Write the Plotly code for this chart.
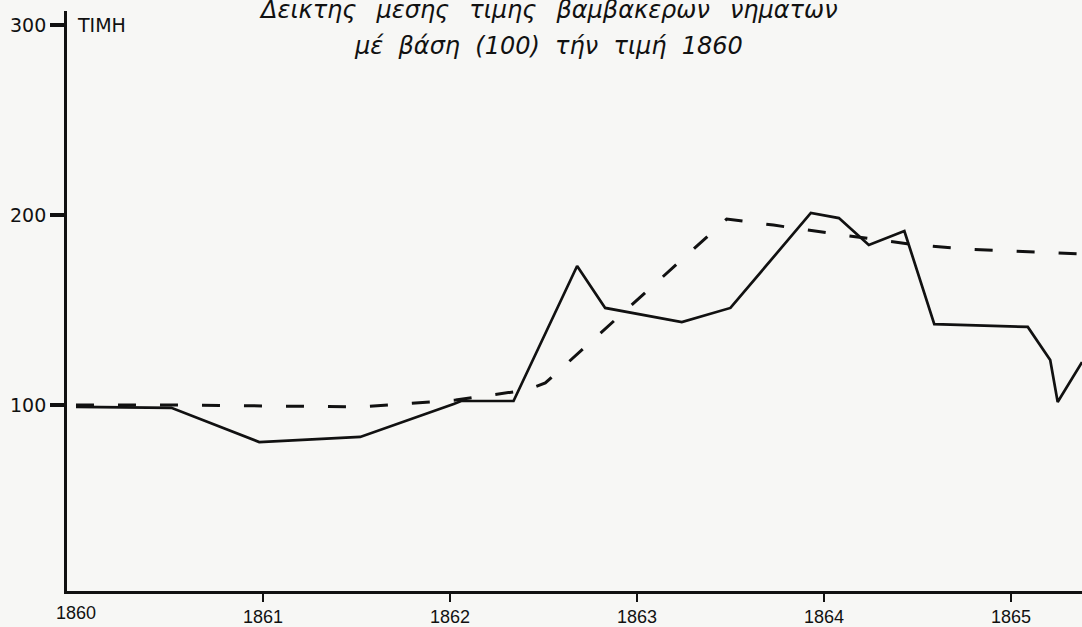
import plotly.graph_objects as go

# Solid line: cotton yarn price index (1860 = 100)
solid_years = [1860.0, 1860.51, 1860.98, 1861.52, 1862.02, 1862.06, 1862.34, 1862.68,
               1862.83, 1863.24, 1863.50, 1863.93, 1864.08, 1864.24, 1864.43, 1864.59,
               1865.09, 1865.21, 1865.25, 1865.38]
solid_values = [99, 98.5, 80.5, 83.2, 100.5, 102.1, 102.1, 173.2,
                151.1, 143.7, 151.1, 201.1, 198.4, 184.2, 191.6, 142.6,
                141.1, 123.7, 101.6, 122.6]

# Dashed line
dashed_years = [1860.0, 1860.51, 1861.52, 1862.03, 1862.41, 1862.51, 1863.48, 1863.73,
                1864.10, 1864.50, 1864.76, 1865.38]
dashed_values = [100, 100, 99, 102.6, 107.9, 111.6, 197.9, 194.7,
                 189.5, 184.2, 182.1, 179.5]

x_tick_years = [1861, 1862, 1863, 1864, 1865]
x_tick_labels = ["1861", "1862", "1863", "1864", "1865"]
y_tick_values = [100, 200, 300]
y_tick_labels = ["100", "200", "300"]

gap = "  \u2009"
title_line1 = gap.join(["Δεικτης", "μεσης", "τιμης", "βαμβακερων", "νηματων"])
title_line2 = "μέ  βάση  (100)  τήν  τιμή  1860"
y_axis_label = "ΤΙΜΗ"
first_year_label = "1860"

ink = "#111111"
bg = "#f7f7f5"
title_x = (548 - 67) / 1015

fig = go.Figure()
fig.add_trace(go.Scatter(x=dashed_years, y=dashed_values, mode="lines",
                         line=dict(color=ink, width=3, dash="18px,24px"),
                         showlegend=False, hoverinfo="skip"))
fig.add_trace(go.Scatter(x=solid_years, y=solid_values, mode="lines",
                         line=dict(color=ink, width=2.7),
                         showlegend=False, hoverinfo="skip"))

fig.update_layout(
    width=1082, height=627,
    margin=dict(l=67, r=0, t=11, b=36, autoexpand=False),
    paper_bgcolor=bg, plot_bgcolor=bg,
    showlegend=False,
    xaxis=dict(range=[1859.952, 1865.38], showgrid=False, zeroline=False,
               showline=True, linecolor=ink, linewidth=2.5,
               ticks="outside", ticklen=8, tickwidth=2, tickcolor=ink,
               tickvals=x_tick_years, ticktext=x_tick_labels, automargin=False,
               tickfont=dict(family="Liberation Sans", size=18, color=ink)),
    yaxis=dict(range=[2.1, 307.4], showgrid=False, zeroline=False,
               showline=True, linecolor=ink, linewidth=2.8,
               ticks="outside", ticklen=14, tickwidth=4, tickcolor=ink,
               tickvals=y_tick_values, ticktext=y_tick_labels, automargin=False,
               tickfont=dict(family="DejaVu Sans", size=19, color=ink)),
    annotations=[
        dict(text=title_line1, xref="paper", yref="paper", x=title_x, y=1,
             xanchor="center", yanchor="middle", yshift=1.5, showarrow=False,
             font=dict(family="DejaVu Sans", size=24, color=ink, style="italic")),
        dict(text=title_line2, xref="paper", yref="paper", x=title_x, y=1,
             xanchor="center", yanchor="middle", yshift=-35.3, showarrow=False,
             font=dict(family="DejaVu Sans", size=24, color=ink, style="italic")),
        dict(text=y_axis_label, xref="paper", yref="y", x=0, y=300, xshift=8,
             xanchor="left", yanchor="middle", showarrow=False,
             font=dict(family="DejaVu Sans", size=19, color=ink)),
        dict(text=first_year_label, xref="x", yref="paper", x=1860, y=0, yshift=-10,
             xanchor="center", yanchor="top", showarrow=False,
             font=dict(family="Liberation Sans", size=18, color=ink)),
    ],
)

fig.write_html("out.html", config={"displayModeBar": False},
               post_script="document.body.style.margin='0';document.body.style.background='" + bg + "';")
